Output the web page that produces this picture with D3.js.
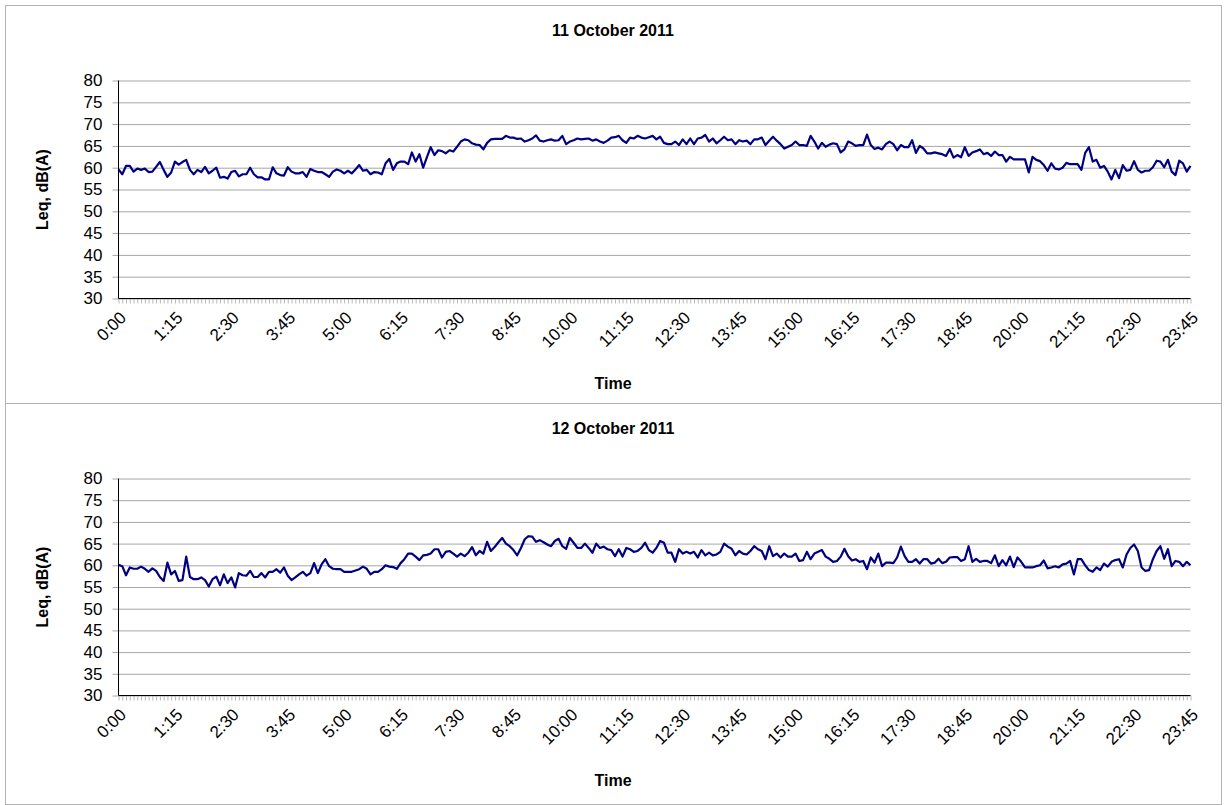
<!DOCTYPE html>
<html>
<head>
<meta charset="utf-8">
<script src="https://cdn.jsdelivr.net/npm/d3@7"></script>
<style>
  body { margin: 0; background: #ffffff; }
  svg { display: block; font-family: Arial, 'Liberation Sans', sans-serif; }
</style>
</head>
<body>
<div class="display"></div>
<script>
const WIDTH = 1226;
const HEIGHT = 805;
const PLOT_LEFT = 118.5;
const PLOT_RIGHT = 1190.5;
const LINE_COLOR = '#000080';
const GRID_COLOR = '#a6a6a6';

const Y_AXIS = 'Leq, dB(A)';
const X_AXIS = 'Time';

// 5 minute readings, 0:00 .. 23:45
const TIMES = d3.range(0, 24 * 60 - 10, 5)
  .map(m => `${Math.floor(m / 60)}:${String(m % 60).padStart(2, '0')}`);

const TICK_LABELS = ['0:00', '1:15', '2:30', '3:45', '5:00', '6:15', '7:30', '8:45', '10:00', '11:15',
  '12:30', '13:45', '15:00', '16:15', '17:30', '18:45', '20:00', '21:15', '22:30', '23:45'];

const Y_TICKS = [30, 35, 40, 45, 50, 55, 60, 65, 70, 75, 80];

const TITLE_11 = '11 October 2011';
const LEQ_11 = [
  59.6, 58.5, 60.4, 60.4, 59.1, 59.8, 59.5, 59.8, 59.0, 59.1,
  60.2, 61.3, 59.5, 57.9, 58.9, 61.4, 60.7, 61.3, 61.8, 59.5,
  58.5, 59.5, 59.0, 60.2, 58.7, 59.3, 60.0, 57.7, 57.9, 57.5,
  59.0, 59.3, 58.0, 58.5, 58.5, 60.0, 58.5, 57.8, 57.8, 57.3,
  57.3, 60.1, 58.7, 58.3, 58.2, 60.1, 59.1, 58.7, 58.7, 59.0,
  57.9, 59.7, 59.3, 59.0, 59.0, 58.5, 57.9, 59.1, 59.6, 59.3,
  58.7, 59.3, 58.7, 59.6, 60.6, 59.3, 59.5, 58.5, 59.0, 58.9,
  58.5, 61.0, 62.0, 59.5, 61.0, 61.4, 61.4, 60.8, 63.5, 61.4,
  63.1, 60.0, 62.4, 64.7, 62.9, 64.0, 63.8, 63.3, 64.0, 63.7,
  64.8, 66.0, 66.5, 66.3, 65.6, 65.3, 65.2, 64.2, 65.7, 66.5,
  66.6, 66.6, 66.6, 67.3, 66.9, 66.9, 66.6, 66.7, 66.0, 66.3,
  66.7, 67.4, 66.2, 66.0, 66.3, 66.5, 66.2, 66.3, 67.3, 65.4,
  66.0, 66.3, 66.7, 66.5, 66.6, 66.7, 66.2, 66.5, 66.0, 65.7,
  66.2, 66.9, 67.0, 67.3, 66.3, 65.7, 66.9, 66.7, 67.3, 66.9,
  66.7, 67.0, 67.3, 66.5, 67.1, 65.7, 65.4, 65.4, 66.0, 65.2,
  66.5, 65.4, 66.7, 65.4, 66.7, 66.9, 67.5, 66.0, 66.7, 65.6,
  66.3, 67.1, 66.3, 66.5, 65.4, 66.3, 66.0, 66.2, 65.4, 66.5,
  66.5, 66.9, 65.2, 66.2, 67.1, 66.2, 65.4, 64.4, 64.8, 65.2,
  66.0, 65.2, 65.2, 65.0, 67.3, 66.0, 64.4, 65.7, 64.8, 65.3,
  65.6, 65.4, 63.5, 64.2, 66.0, 65.6, 65.0, 65.2, 65.2, 67.6,
  65.2, 64.3, 64.6, 64.2, 65.4, 66.0, 65.4, 64.0, 65.2, 64.7,
  64.7, 66.3, 63.4, 65.0, 64.4, 63.3, 63.3, 63.5, 63.3, 63.1,
  62.7, 64.3, 62.3, 62.9, 62.4, 64.7, 62.7, 63.5, 63.8, 64.2,
  63.1, 63.4, 62.7, 63.7, 62.9, 62.9, 61.4, 62.5, 61.9, 61.9,
  61.9, 61.9, 58.9, 62.5, 61.8, 61.5, 60.6, 59.3, 61.0, 59.8,
  59.6, 60.0, 61.1, 60.8, 60.8, 60.8, 59.5, 63.4, 64.7, 61.4,
  61.8, 60.0, 60.4, 59.1, 57.3, 59.5, 57.6, 60.6, 59.3, 59.5,
  61.5, 59.5, 58.9, 59.3, 59.3, 60.1, 61.6, 61.4, 60.1, 61.8,
  59.1, 58.3, 61.6, 61.0, 59.1, 60.4
];

const TITLE_12 = '12 October 2011';
const LEQ_12 = [
  60.1, 59.8, 57.7, 59.5, 59.2, 59.2, 59.7, 59.2, 58.5, 59.3,
  58.7, 57.3, 56.4, 60.6, 57.9, 58.7, 56.4, 56.6, 62.0, 57.3,
  56.8, 56.8, 57.2, 56.6, 55.1, 56.8, 57.4, 55.4, 57.9, 55.9,
  57.2, 54.9, 58.2, 57.7, 57.6, 58.7, 57.3, 57.3, 58.2, 57.2,
  58.5, 58.5, 59.1, 58.3, 59.5, 57.6, 56.6, 57.2, 57.9, 58.5,
  57.6, 58.2, 60.5, 58.2, 60.2, 61.4, 59.8, 59.2, 59.1, 59.1,
  58.5, 58.5, 58.5, 58.8, 59.1, 59.7, 59.2, 57.9, 58.5, 58.5,
  59.1, 60.0, 59.7, 59.6, 59.2, 60.5, 61.4, 62.7, 62.7, 62.0,
  61.2, 62.3, 62.4, 62.7, 63.7, 63.7, 61.8, 63.1, 63.3, 62.7,
  62.0, 62.7, 62.1, 62.9, 64.2, 62.3, 63.3, 62.7, 65.4, 63.3,
  64.2, 65.3, 66.3, 65.0, 64.4, 63.5, 62.3, 64.0, 66.0, 66.7,
  66.6, 65.4, 65.8, 65.3, 64.8, 64.4, 65.6, 66.1, 64.4, 63.8,
  66.3, 65.2, 64.0, 64.0, 65.0, 64.0, 62.9, 65.0, 64.0, 64.3,
  63.7, 63.5, 62.1, 63.7, 62.0, 64.0, 63.7, 63.1, 63.3, 64.0,
  65.2, 63.5, 62.9, 64.0, 65.6, 65.2, 62.9, 62.9, 60.8, 63.7,
  62.7, 63.1, 62.7, 63.1, 61.8, 63.5, 62.3, 62.9, 62.3, 62.5,
  63.1, 65.0, 64.3, 63.8, 62.3, 63.3, 62.7, 62.5, 63.3, 64.4,
  63.7, 63.3, 61.4, 64.4, 62.1, 62.7, 61.8, 62.7, 62.0, 62.0,
  62.7, 61.0, 61.2, 63.1, 61.4, 62.7, 63.1, 63.5, 62.0, 61.5,
  60.8, 61.0, 62.0, 63.8, 62.1, 61.1, 61.4, 60.8, 61.0, 59.1,
  61.8, 60.6, 62.7, 59.8, 60.6, 60.6, 60.5, 61.8, 64.3, 62.1,
  60.8, 60.8, 61.4, 60.4, 61.4, 61.4, 60.4, 60.6, 61.5, 60.5,
  60.8, 61.8, 61.9, 61.9, 61.0, 61.4, 64.4, 60.8, 61.5, 60.8,
  61.0, 61.0, 60.5, 62.3, 59.8, 61.2, 60.0, 62.0, 59.6, 61.8,
  60.8, 59.5, 59.5, 59.5, 59.8, 60.0, 61.1, 59.3, 59.5, 59.8,
  59.5, 60.2, 60.4, 61.0, 57.9, 61.4, 61.4, 60.0, 58.9, 58.5,
  59.5, 58.9, 60.4, 59.7, 60.8, 61.2, 61.4, 59.5, 62.5, 64.0,
  64.8, 63.3, 59.5, 58.7, 58.9, 61.4, 63.3, 64.4, 61.5, 63.7,
  59.8, 61.0, 60.8, 59.8, 60.8, 60.0
];

const PANELS = [
  { title: TITLE_11, values: LEQ_11, boxTop: 5.5, boxBottom: 403.5, plotTop: 80.5, plotBottom: 298.5 },
  { title: TITLE_12, values: LEQ_12, boxTop: 403.5, boxBottom: 804.5, plotTop: 478.5, plotBottom: 695.5 }
];

let svg;

function setupSvg() {
  svg = d3.select('.display')
    .append('svg')
    .attr('width', WIDTH)
    .attr('height', HEIGHT);

  svg.append('rect')
    .attr('width', WIDTH)
    .attr('height', HEIGHT)
    .attr('fill', '#ffffff');
}

function drawPanel(panel) {
  const g = svg.append('g');

  // chart area border
  g.append('rect')
    .attr('x', 5.5)
    .attr('y', panel.boxTop)
    .attr('width', 1216)
    .attr('height', panel.boxBottom - panel.boxTop)
    .attr('fill', 'none')
    .attr('stroke', '#b3b3b3');

  const x = d3.scalePoint()
    .domain(TIMES)
    .range([PLOT_LEFT, PLOT_RIGHT]);

  const y = d3.scaleLinear()
    .domain([30, 80])
    .range([panel.plotBottom, panel.plotTop]);

  // gridlines + y ticks
  const yAxis = g.append('g')
    .attr('transform', `translate(${PLOT_LEFT}, 0)`)
    .call(d3.axisLeft(y).tickValues(Y_TICKS).tickSize(6).tickPadding(10));
  yAxis.select('.domain').remove();
  yAxis.selectAll('.tick line')
    .attr('x2', PLOT_RIGHT - PLOT_LEFT)
    .attr('x1', -6)
    .attr('stroke', GRID_COLOR);
  yAxis.selectAll('.tick text')
    .attr('fill', '#000')
    .style('font-size', '17px');

  // x axis with a tick per reading
  const xAxis = g.append('g')
    .attr('transform', `translate(0, ${panel.plotBottom})`)
    .call(d3.axisBottom(x).tickSize(5).tickFormat(d => TICK_LABELS.includes(d) ? d : ''));
  xAxis.select('.domain').remove();
  xAxis.selectAll('.tick line')
    .attr('stroke', '#b8b8b8');
  xAxis.selectAll('.tick text')
    .attr('fill', '#000')
    .attr('y', 0)
    .attr('dy', '0.35em')
    .attr('text-anchor', 'end')
    .attr('transform', 'translate(4, 16) rotate(-45)')
    .style('font-size', '17px');

  // axis lines
  g.append('line')
    .attr('x1', PLOT_LEFT).attr('x2', PLOT_LEFT)
    .attr('y1', panel.plotTop).attr('y2', panel.plotBottom)
    .attr('stroke', '#000');
  g.append('line')
    .attr('x1', PLOT_LEFT).attr('x2', PLOT_RIGHT)
    .attr('y1', panel.plotBottom).attr('y2', panel.plotBottom)
    .attr('stroke', '#000');

  const line = d3.line()
    .x((d, i) => x(TIMES[i]))
    .y(d => y(d));

  g.append('path')
    .datum(panel.values)
    .attr('d', line)
    .attr('fill', 'none')
    .attr('stroke', LINE_COLOR)
    .attr('stroke-width', 2.2)
    .attr('stroke-linejoin', 'round');

  g.append('text')
    .attr('x', 613)
    .attr('y', panel.plotTop - 50)
    .attr('dy', '0.35em')
    .attr('text-anchor', 'middle')
    .style('font-size', '16px')
    .style('font-weight', 'bold')
    .text(panel.title);

  g.append('text')
    .attr('x', 613)
    .attr('y', panel.plotBottom + 85)
    .attr('dy', '0.35em')
    .attr('text-anchor', 'middle')
    .style('font-size', '16px')
    .style('font-weight', 'bold')
    .text(X_AXIS);

  const midY = (panel.plotTop + panel.plotBottom) / 2;
  g.append('text')
    .attr('transform', `translate(42, ${midY}) rotate(-90)`)
    .attr('dy', '0.35em')
    .attr('text-anchor', 'middle')
    .style('font-size', '16px')
    .style('font-weight', 'bold')
    .text(Y_AXIS);
}

window.addEventListener('load', () => {
  setupSvg();
  PANELS.forEach(drawPanel);
}, false);
</script>
</body>
</html>
